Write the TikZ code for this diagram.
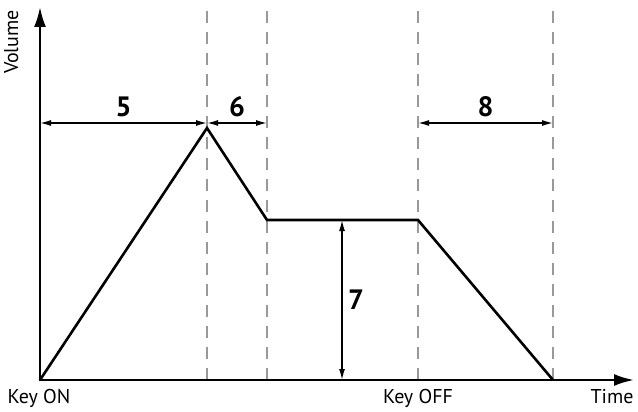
\documentclass[tikz,border=0pt]{standalone}
\usepackage{fontspec}
\setmainfont{PT Sans}
\usetikzlibrary{arrows.meta,positioning}

\begin{document}
\begin{tikzpicture}[x=1pt, y=-1pt, >=Latex,
  axis/.style={line width=2.4pt, -{Latex[length=20pt,width=12pt]}},
  envelope/.style={line width=2.6pt, line join=miter, line cap=round},
  guide/.style={gray!80, line width=1.2pt, dash pattern=on 12pt off 9pt},
  dim/.style={line width=1.4pt, {Latex[length=11pt,width=6pt]}-{Latex[length=11pt,width=6pt]}},
  dimlabel/.style={font=\fontsize{28}{28}\selectfont\bfseries},
  axlabel/.style={font=\fontsize{20}{20}\selectfont}]
\useasboundingbox (0,0) rectangle (638,412);
% points of the envelope
\coordinate (origin) at (40,380);
\coordinate (peak) at (207,128);
\coordinate (sustain) at (267,220);
\coordinate (keyoff) at (418,220);
\coordinate (release) at (553,380);
\coordinate (ytop) at (40,7);
\coordinate (xend) at (634,380);
% guide lines
\foreach \p in {peak,sustain,keyoff,release}
  \draw[guide] (origin -| \p) -- ++(0,-370);
% axes
\draw[axis] (origin) -- (ytop);
\draw[axis] (origin) -- (xend);
% envelope
\draw[envelope] (origin) -- (peak) -- (sustain) -- (keyoff) -- (release);
% dimensions
\coordinate (d5a) at (40,123);
\draw[dim] (d5a) -- node[dimlabel, above=2pt] (n5) {5} (d5a -| peak);
\draw[dim] (d5a -| peak) -- node[dimlabel, above=2pt] (n6) {6} (d5a -| sustain);
\draw[dim] (d5a -| keyoff) -- node[dimlabel, above=2pt] (n8) {8} (d5a -| release);
\coordinate (d7) at (342,380);
\draw[dim] (d7) -- node[dimlabel, right=2pt] (n7) {7} (d7 |- keyoff);
% axis labels
\node[axlabel, rotate=90, anchor=south] (vol) at (22,42) {Volume};
\node[axlabel, anchor=north] (kon) at (39,386) {Key ON};
\node[axlabel, anchor=north] (koff) at (418,386) {Key OFF};
\node[axlabel, anchor=north] (time) at (612,386) {Time};
\end{tikzpicture}
\end{document}
